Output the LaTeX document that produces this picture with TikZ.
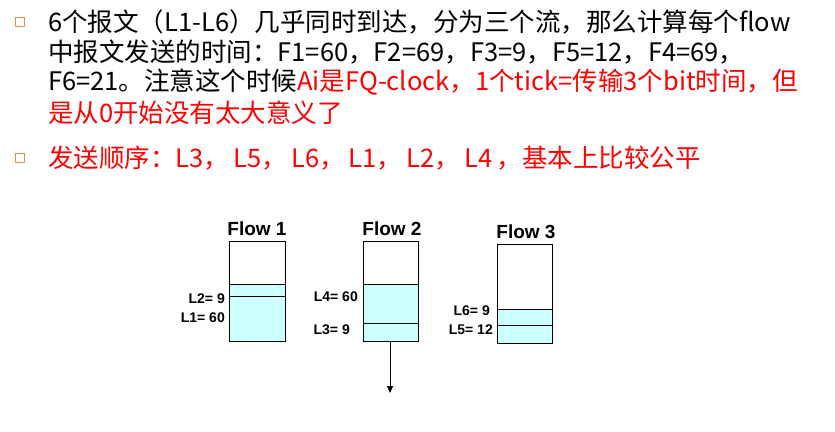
\documentclass[tikz,border=0pt]{standalone}
\usepackage{fontspec}
\usetikzlibrary{arrows.meta}
\setmainfont{Liberation Sans}
\newfontfamily\cjk{Noto Sans CJK SC}
\definecolor{cy}{RGB}{204,255,255}
\definecolor{bul}{RGB}{230,140,70}
\begin{document}
\begin{tikzpicture}[x=1pt,y=-1pt,
  txt/.style={anchor=west,inner sep=0,font=\cjk\fontsize{25.5}{28}\selectfont},
  lab/.style={anchor=east,inner sep=0,font=\bfseries\fontsize{14}{15}\selectfont},
  ttl/.style={inner sep=0,font=\bfseries\fontsize{19}{20}\selectfont},
  bull/.style={draw=bul,fill=white,minimum size=9pt,inner sep=0,line width=0.8pt},
  bx/.style={draw,line width=0.8pt}]
\useasboundingbox (0,0) rectangle (835,431);
\node[bull] (b1) at (20,22) {};
\node[bull] (b2) at (20,158) {};
\node[txt] (t1) at (48,22) {6个报文（L1-L6）几乎同时到达，分为三个流，那么计算每个flow};
\node[txt] (t2) at (48,52) {中报文发送的时间：F1=60，F2=69，F3=9，F5=12，F4=69，};
\node[txt] (t3) at (48,82) {F6=21。注意这个时候\textcolor{red}{Ai是FQ-clock，}\textcolor{red}{1个tick=传输3个bit时间，但}};
\node[txt,text=red] (t4) at (48,113) {是从0开始没有太大意义了};
\node[txt,text=red] (t5) at (48,158) {发送顺序：L3，\,L5，\,L6，\,L1，\,L2，\,L4\,，基本上比较公平};
% Flow 1
\fill[cy] (229,284) rectangle (285,341);
\draw[bx] (229,241) rectangle (285,341);
\draw[bx] (229,284) -- (285,284);
\draw[bx] (229,296) -- (285,296);
% Flow 2
\fill[cy] (363,284) rectangle (418,341);
\draw[bx] (363,241) rectangle (418,341);
\draw[bx] (363,284) -- (418,284);
\draw[bx] (363,323) -- (418,323);
% Flow 3
\fill[cy] (497,309) rectangle (552,343);
\draw[bx] (497,244) rectangle (552,343);
\draw[bx] (497,309) -- (552,309);
\draw[bx] (497,325) -- (552,325);
\node[ttl] (f1) at (257,229) {Flow 1};
\node[ttl] (f2) at (392,229) {Flow 2};
\node[ttl] (f3) at (526,232) {Flow 3};
\node[lab] (l2) at (225,299) {L2= 9};
\node[lab] (l1) at (225,318) {L1= 60};
\node[lab] (l4) at (358,297) {L4= 60};
\node[lab] (l3) at (350,330) {L3= 9};
\node[lab] (l6) at (490,311) {L6= 9};
\node[lab] (l5) at (493,330) {L5= 12};
\coordinate (as) at (390,341);
\coordinate (ae) at (390,393);
\draw[-{Triangle[length=7pt,width=6pt]},line width=0.8pt] (as) -- (ae);
\end{tikzpicture}
\end{document}
